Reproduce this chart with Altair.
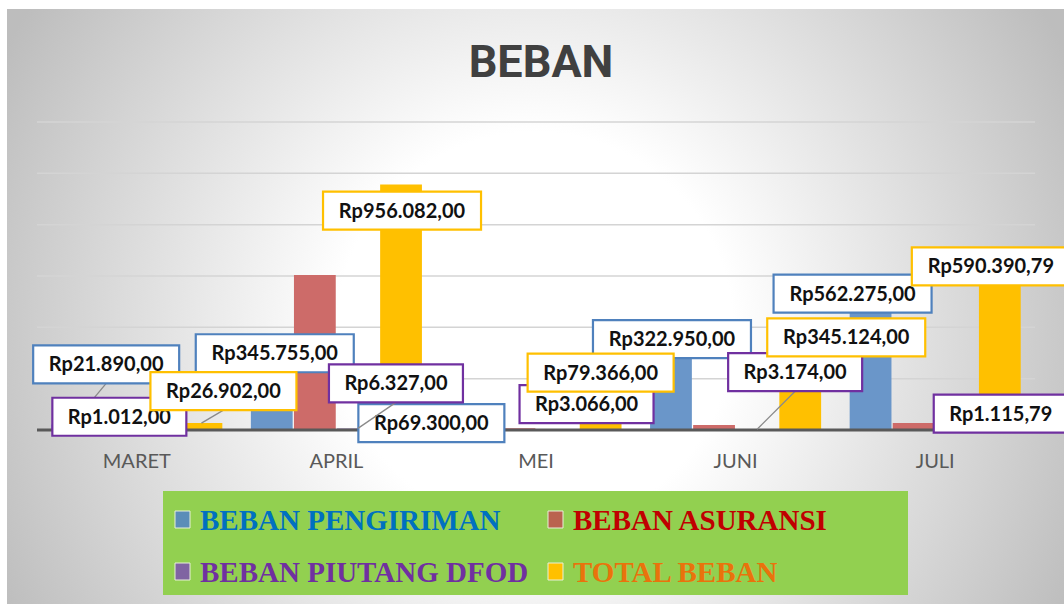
import altair as alt
import pandas as pd

# ---------------- data ----------------
months = ["MARET", "APRIL", "MEI", "JUNI", "JULI"]
series_names = ["BEBAN PENGIRIMAN", "BEBAN ASURANSI", "BEBAN PIUTANG DFOD", "TOTAL BEBAN"]
beban_pengiriman = [21890, 345755, 69300, 322950, 562275]
beban_asuransi = [4000, 604000, 7000, 19000, 27000]
beban_piutang_dfod = [1012, 6327, 3066, 3174, 1115.79]
total_beban = [26902, 956082, 79366, 345124, 590390.79]
grid_values = [200000, 400000, 600000, 800000, 1000000, 1200000]

# ---------------- styles ----------------
bar_colors = ["#6A96C9", "#CD6B69", "#8064A2", "#FFC000"]
box_colors = {"BEBAN PENGIRIMAN": "#4F81BD", "BEBAN PIUTANG DFOD": "#7030A0", "TOTAL BEBAN": "#FFC000"}
legend_swatches = ["#5B8DB8", "#BA634F", "#8064A2", "#FFC000"]
legend_text_colors = ["#0070C0", "#C00000", "#7030A0", "#E9730C"]

W, H = 998, 308

# label nudges in pixels from the top-centre of each bar (dx, dy, leader line)
label_layout = {
    ("MARET", "BEBAN PENGIRIMAN"): (34, -60, True),
    ("APRIL", "BEBAN PENGIRIMAN"): (3, 12, False),
    ("MEI", "BEBAN PENGIRIMAN"): (-40, 11, False),
    ("JUNI", "BEBAN PENGIRIMAN"): (1, -8, False),
    ("JULI", "BEBAN PENGIRIMAN"): (-18, 8, False),
    ("MARET", "BEBAN PIUTANG DFOD"): (-39, -13, False),
    ("APRIL", "BEBAN PIUTANG DFOD"): (38, -45, True),
    ("MEI", "BEBAN PIUTANG DFOD"): (29, -25, False),
    ("JUNI", "BEBAN PIUTANG DFOD"): (38, -57, True),
    ("JULI", "BEBAN PIUTANG DFOD"): (44, -16, False),
    ("MARET", "TOTAL BEBAN"): (22, -32, True),
    ("APRIL", "TOTAL BEBAN"): (1, 26, False),
    ("MEI", "TOTAL BEBAN"): (0, -37, False),
    ("JUNI", "TOTAL BEBAN"): (46, -4, False),
    ("JULI", "TOTAL BEBAN"): (-9, -12, False),
}

values_by_series = [beban_pengiriman, beban_asuransi, beban_piutang_dfod, total_beban]
rows = []
for s, vals in zip(series_names, values_by_series):
    for m, v in zip(months, vals):
        rows.append({"month": m, "series": s, "value": v})
bars_df = pd.DataFrame(rows)


def rupiah(v):
    s = f"{v:,.2f}"
    return "Rp" + s.replace(",", "#").replace(".", ",").replace("#", ".")


lab_rows = []
for (m, s), (dx, dy, leader) in label_layout.items():
    v = bars_df[(bars_df.month == m) & (bars_df.series == s)].value.iloc[0]
    lab_rows.append(dict(month=m, series=s, value=v, label=rupiah(v), dx=dx, dy=dy, leader=int(leader)))
labels_df = pd.DataFrame(lab_rows)

one = pd.DataFrame({"k": [0]})

# ---------------- background ----------------
bg = alt.Chart(one).mark_rect(
    fill={
        "gradient": "radial",
        "x1": 0.5, "y1": 0.5, "r1": 0,
        "x2": 0.5, "y2": 0.5, "r2": 0.5,
        "stops": [
            {"offset": 0, "color": "#ffffff"},
            {"offset": 0.33, "color": "#ffffff"},
            {"offset": 1, "color": "#bdbdbd"},
        ],
    }
).encode(x=alt.value(-102), x2=alt.value(1098), y=alt.value(-392), y2=alt.value(808))

strip_top = alt.Chart(one).mark_rect(fill="white").encode(
    x=alt.value(-40), x2=alt.value(1040), y=alt.value(-130), y2=alt.value(-113))
strip_left = alt.Chart(one).mark_rect(fill="white").encode(
    x=alt.value(-40), x2=alt.value(-30), y=alt.value(-130), y2=alt.value(490))

yscale = alt.Scale(domain=[0, 1200000], nice=False, zero=True)

grid = alt.Chart(pd.DataFrame({"v": grid_values})).mark_rule(
    color="#d4d4d4", strokeWidth=1.5).encode(y=alt.Y("v:Q", scale=yscale, axis=None))

base_line = alt.Chart(pd.DataFrame({"v": [0]})).mark_rule(
    color="#595959", strokeWidth=3).encode(y=alt.Y("v:Q", scale=yscale, axis=None))

# ---------------- bars ----------------
bars = alt.Chart(bars_df).mark_bar().encode(
    x=alt.X("month:N", sort=months,
            scale=alt.Scale(paddingInner=0.143, paddingOuter=0.0715),
            axis=alt.Axis(title=None, ticks=False, domain=False, labelAngle=0,
                          labelFont="Lato", labelFontSize=20, labelColor="#595959",
                          labelPadding=21, zindex=1)),
    xOffset=alt.XOffset("series:N", sort=series_names,
                        scale=alt.Scale(paddingInner=0.03, paddingOuter=0)),
    y=alt.Y("value:Q", scale=yscale, axis=None),
    color=alt.Color("series:N", scale=alt.Scale(domain=series_names, range=bar_colors), legend=None),
)

# ---------------- data labels ----------------
ax = "(scale('x', datum.month) + scale('xOffset', datum.series) + bandwidth('xOffset') / 2)"
ay = "scale('y', datum.value)"
cx = f"({ax} + datum.dx)"
cy = f"({ay} + datum.dy)"
hw = "((length(datum.label) * 12 + 14) / 2)"

label_layers = []
for s in ["BEBAN PENGIRIMAN", "BEBAN PIUTANG DFOD", "TOTAL BEBAN"]:
    base = alt.Chart(labels_df).transform_filter(alt.datum.series == s)
    leader = base.transform_filter("datum.leader == 1").mark_rule(
        color="#8a8a8a", strokeWidth=1.3).encode(
        x={"value": {"expr": ax}}, y={"value": {"expr": ay}},
        x2={"value": {"expr": cx}}, y2={"value": {"expr": f"{cy} + 19"}})
    box = base.mark_rect(fill="white", stroke=box_colors[s], strokeWidth=2.2).encode(
        x={"value": {"expr": f"{cx} - {hw}"}}, x2={"value": {"expr": f"{cx} + {hw}"}},
        y={"value": {"expr": f"{cy} - 19"}}, y2={"value": {"expr": f"{cy} + 19"}})
    txt = base.mark_text(font="Lato", fontSize=20, fontWeight="bold", color="#111111",
                         align="center", baseline="middle").encode(
        x={"value": {"expr": cx}}, y={"value": {"expr": f"{cy} + 1"}}, text="label:N")
    label_layers += [leader, box, txt]

# ---------------- title ----------------
title = alt.Chart(one).mark_text(
    text="BEBAN", font="Roboto", fontSize=45, fontWeight="bold",
    color="#404040", align="center", baseline="alphabetic"
).encode(x=alt.value(504), y=alt.value(-45))

# ---------------- legend ----------------
legend_layers = [
    alt.Chart(one).mark_rect(fill="#92D050").encode(
        x=alt.value(126), x2=alt.value(871), y=alt.value(369), y2=alt.value(473))
]
for i, (name, sw, tc) in enumerate(zip(series_names, legend_swatches, legend_text_colors)):
    col, row = i % 2, i // 2
    sx = 138 if col == 0 else 511
    tx = 163 if col == 0 else 536
    sy = 389 + row * 52
    legend_layers.append(
        alt.Chart(one).mark_rect(fill=sw, stroke="#e8f0d8", strokeWidth=1).encode(
            x=alt.value(sx), x2=alt.value(sx + 15), y=alt.value(sy), y2=alt.value(sy + 17)))
    legend_layers.append(
        alt.Chart(one).mark_text(text=name, font="Liberation Serif", fontSize=29,
                                 fontWeight="bold", color=tc, align="left",
                                 baseline="alphabetic").encode(
            x=alt.value(tx), y=alt.value(sy + 19)))

chart = alt.layer(
    bg, strip_top, strip_left, grid, bars, base_line, *label_layers, title, *legend_layers
).properties(
    width=W, height=H,
    autosize=alt.AutoSizeParams(type="none"),
    padding={"left": 37, "top": 122, "right": 29, "bottom": 174},
    background="white",
).configure_view(stroke=None)

chart.save("out.html", embed_options={"renderer": "svg", "actions": False})
